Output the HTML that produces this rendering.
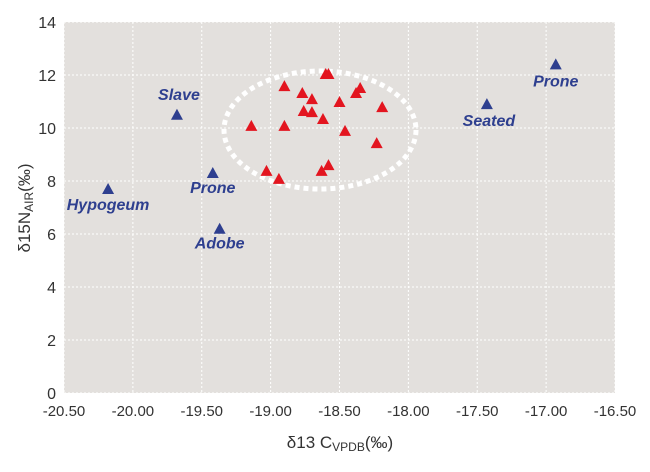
<!DOCTYPE html>
<html><head><meta charset="utf-8"><style>
body{margin:0;background:#fff;width:650px;height:467px;overflow:hidden;font-family:"Liberation Sans",sans-serif}
</style></head><body>
<svg id="chart" width="650" height="467" xmlns="http://www.w3.org/2000/svg">
<rect x="64" y="22" width="551" height="371" fill="#e3e0dd"/>
<g id="grid"></g><g id="ticks"></g>
<ellipse cx="320" cy="130" rx="96" ry="59" fill="none" stroke="#fff" stroke-width="5" stroke-dasharray="5 4"/>
<g id="marks"></g><g id="labels"></g>
<text x="340" y="448" font-size="17" text-anchor="middle" fill="#333">δ13 C<tspan font-size="12" dy="3">VPDB</tspan><tspan dy="-3">(‰)</tspan></text>
<text transform="translate(30,208) rotate(-90)" font-size="17" text-anchor="middle" fill="#333">δ15N<tspan font-size="12" dy="3">AIR</tspan><tspan dy="-3">(‰)</tspan></text>
</svg>
<script>
const xTicks=[-20.5,-20,-19.5,-19,-18.5,-18,-17.5,-17,-16.5];
const yTicks=[0,2,4,6,8,10,12,14];
const blueX=[-20.18,-19.68,-19.42,-19.37,-17.43,-16.93];
const blueY=[7.7,10.5,8.3,6.2,10.9,12.4];
const blueLabels=["Hypogeum","Slave","Prone","Adobe","Seated","Prone"];
const redX=[-18.60,-18.58,-18.90,-18.77,-18.70,-18.50,-18.38,-18.35,-18.19,-18.76,-18.70,-18.62,-19.14,-18.90,-18.46,-18.23,-19.03,-18.94,-18.63,-18.58];
const redY=[12.04,12.04,11.58,11.32,11.09,10.98,11.32,11.51,10.79,10.64,10.60,10.34,10.08,10.08,9.89,9.43,8.38,8.08,8.38,8.60];
const NS="http://www.w3.org/2000/svg";
const X=v=>64+(v+20.5)/4*551, Y=v=>393-v/14*371;
function mk(t,a,p){const e=document.createElementNS(NS,t);for(const k in a)e.setAttribute(k,a[k]);p.appendChild(e);return e;}
const grid=document.getElementById('grid'),ticks=document.getElementById('ticks'),marks=document.getElementById('marks'),labels=document.getElementById('labels');
xTicks.forEach(v=>{
 const l=mk('line',{x1:X(v),x2:X(v),y1:22,y2:397,stroke:'#fff','stroke-width':1,'stroke-dasharray':'2 2'},grid);
 
 
 const t=mk('text',{x:X(v),y:416,'font-size':15,'text-anchor':'middle',fill:'#333'},ticks);
 
 
 t.textContent=(v<0?'-':'')+Math.abs(v).toFixed(2);
});
yTicks.forEach(v=>{
 const l=mk('line',{x1:60,x2:615,y1:Y(v),y2:Y(v),stroke:'#fff','stroke-width':1,'stroke-dasharray':'2 2'},grid);
 
 
 const t=mk('text',{x:56,y:Y(v)+6,'font-size':16,'text-anchor':'end',fill:'#333'},ticks);
 
 
 t.textContent=v;
});
function tri(x,y,c,name){const p=mk('polygon',{points:`${x},${y-6} ${x-6},${y+5} ${x+6},${y+5}`,fill:c},marks);
 
 }
redX.forEach((v,i)=>tri(X(v),Y(redY[i]),'#e3151f','red-point'));
const offs=[[0,21],[2,-15],[0,20],[0,20],[2,22],[0,22]];
blueX.forEach((v,i)=>{tri(X(v),Y(blueY[i]),'#2e3f8f','blue-point');
 const t=mk('text',{x:X(v)+offs[i][0],y:Y(blueY[i])+offs[i][1],'font-size':16,'font-weight':'bold','font-style':'italic','text-anchor':'middle',fill:'#2e3f8f'},labels);
 
 
 t.textContent=blueLabels[i];});
</script>
</body></html>
